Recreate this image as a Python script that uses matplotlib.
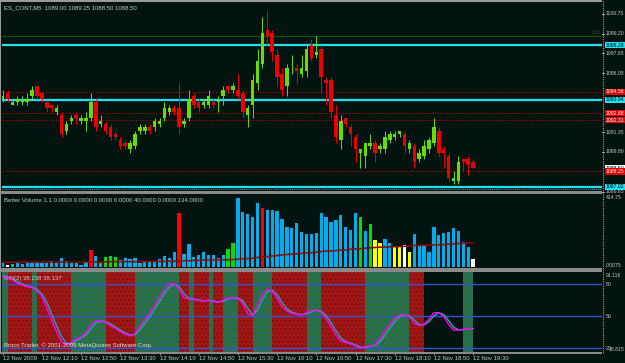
import matplotlib
matplotlib.use('Agg')
import matplotlib.pyplot as plt
import matplotlib.transforms as mtransforms
from matplotlib.patches import Rectangle

# ---------------- DATA ----------------
opens = [1094.0,1094.5,1093.5,1093.75,1093.75,1093.75,1094.25,1095.0,1094.5,1093.75,
         1093.5,1093.0,1092.75,1091.5,1092.25,1092.75,1092.25,1092.25,1092.5,1093.75,
         1092.0,1092.0,1091.75,1091.25,1090.75,1090.5,1090.0,1090.25,1091.5,1091.5,
         1091.75,1091.75,1092.0,1092.5,1093.0,1093.25,1093.25,1092.0,1092.5,1094.25,
         1093.75,1093.5,1093.5,1093.75,1093.75,1094.25,1095.0,1094.75,1094.75,1094.5,
         1092.75,1093.5,1095.25,1096.75,1099.5,1099.25,1097.5,1096.0,1095.0,1096.75,
         1096.5,1096.0,1096.25,1098.25,1097.5,1098.0,1095.5,1095.5,1092.75,1090.75,
         1092.5,1091.75,1091.0,1089.75,1089.5,1090.25,1090.5,1090.0,1090.0,1090.75,
         1091.0,1091.25,1091.25,1090.0,1090.25,1089.25,1089.5,1090.0,1090.5,1091.5,
         1090.0,1089.5,1087.5,1087.5,1089.25,1089.25,1089.0]
highs = [1094.75,1094.75,1094.0,1094.25,1094.25,1094.5,1095.0,1095.0,1094.5,1093.75,
         1093.5,1093.5,1093.0,1092.25,1092.75,1093.0,1092.75,1093.0,1094.5,1094.0,
         1092.75,1092.25,1092.0,1091.5,1091.0,1090.75,1090.75,1091.5,1092.0,1092.0,
         1092.0,1092.5,1092.5,1093.75,1093.5,1093.5,1095.25,1092.5,1094.75,1094.5,
         1094.0,1094.0,1094.75,1094.0,1094.25,1095.0,1095.0,1095.25,1096.0,1094.75,
         1093.5,1096.0,1098.0,1100.5,1101.0,1099.5,1098.0,1096.5,1096.75,1097.5,
         1096.75,1097.5,1098.25,1098.75,1099.0,1098.25,1095.75,1095.75,1093.5,1092.75,
         1092.5,1092.0,1091.25,1090.0,1090.5,1091.25,1090.75,1090.5,1091.5,1091.5,
         1091.5,1091.5,1091.5,1090.75,1090.5,1090.0,1090.75,1091.0,1092.5,1091.75,
         1090.25,1089.75,1088.25,1089.5,1089.25,1089.5,1089.25]
lows = [1093.75,1093.75,1093.5,1093.5,1093.5,1093.5,1094.0,1094.0,1093.75,1093.0,
        1093.0,1092.75,1091.0,1091.25,1092.0,1092.0,1092.0,1091.5,1092.25,1091.5,
        1091.75,1091.25,1090.75,1090.75,1090.0,1090.0,1089.75,1090.0,1091.25,1091.25,
        1091.25,1091.5,1091.75,1092.25,1092.75,1092.75,1091.25,1091.75,1092.25,1093.25,
        1093.0,1093.25,1093.25,1093.25,1093.0,1093.5,1094.5,1094.5,1094.0,1092.5,
        1091.75,1092.5,1094.75,1096.5,1098.25,1097.0,1095.0,1094.25,1094.25,1096.0,
        1095.25,1095.75,1095.75,1097.0,1097.25,1094.5,1093.5,1092.5,1090.5,1090.0,
        1091.75,1090.25,1089.0,1088.5,1088.5,1090.0,1089.0,1089.75,1089.75,1090.5,
        1090.75,1091.0,1089.75,1089.75,1088.5,1089.0,1089.25,1089.75,1090.25,1089.5,
        1088.5,1087.5,1087.25,1087.25,1088.25,1088.0,1088.5]
closes = [1094.25,1094.0,1093.75,1094.0,1094.0,1094.0,1094.75,1094.25,1094.0,1093.25,
          1093.25,1093.25,1091.25,1092.0,1092.5,1092.5,1092.5,1092.5,1093.75,1091.75,
          1092.25,1091.5,1091.0,1091.0,1090.25,1090.25,1090.5,1091.25,1091.75,1091.75,
          1091.5,1092.25,1092.25,1093.25,1093.25,1093.0,1091.75,1092.25,1094.0,1093.5,
          1093.25,1093.75,1094.25,1093.5,1094.0,1094.75,1094.75,1095.0,1094.25,1093.0,
          1093.25,1095.5,1097.0,1099.25,1099.0,1097.75,1095.75,1094.75,1096.5,1096.75,
          1096.25,1096.5,1098.0,1097.25,1097.75,1095.75,1095.25,1093.0,1091.0,1092.25,
          1092.0,1091.25,1090.0,1090.0,1090.5,1090.5,1089.75,1090.25,1091.0,1091.25,
          1091.25,1091.5,1090.25,1090.5,1089.0,1089.75,1090.25,1090.75,1091.75,1089.75,
          1089.75,1087.75,1087.75,1089.0,1089.0,1088.75,1088.5]

volume = [20,12,16,20,14,20,20,30,20,20,
          36,20,50,36,24,20,12,30,102,66,
          24,60,66,60,40,54,44,52,24,34,
          30,30,46,66,54,90,320,74,138,56,
          70,86,70,70,54,72,106,144,412,330,
          314,300,380,350,342,342,332,286,240,232,
          260,210,196,196,204,320,300,266,280,312,
          238,222,320,296,216,254,160,140,166,140,
          120,120,132,86,196,124,124,90,236,192,
          202,210,230,216,146,120,46]
vol_type = {1: 'white', 18: 'red', 21: 'green', 22: 'green', 23: 'green', 36: 'red',
            46: 'green', 47: 'green', 53: 'red', 73: 'green', 75: 'green',
            76: 'yellow', 77: 'yellow', 80: 'yellow', 81: 'yellow', 82: 'white',
            83: 'yellow', 96: 'white'}
vol_ma = [26,26,26,26,26,26,26,26,26,26,
          26,26,27,27,27,27,27,27,28,28,
          28,28,29,29,29,29,29,29,30,30,
          30,31,31,31,32,32,33,34,35,36,
          37,38,38,39,40,40,41,42,44,46,
          48,50,54,57,60,63,66,69,72,74,
          76,79,81,83,86,90,92,94,96,98,
          100,104,106,107,110,112,114,116,117,118,
          119,120,121,123,126,127,128,129,130,131,
          132,134,136,138,140,141,142]

rsi = [86.8,85.9,83.8,80.6,79.0,77.5,76.6,73.4,68.1,57.2,
       46.3,35.3,25.9,22.8,25.3,28.4,30.6,33.8,41.6,45.3,
       45.3,44.1,40.9,38.4,35.3,32.8,31.3,33.8,40.0,46.3,
       52.5,60.3,67.2,74.4,79.7,80.6,74.4,67.2,65.9,65.6,
       64.4,64.1,65.0,63.4,62.8,65.0,66.6,67.2,66.6,61.9,
       52.5,50.3,60.3,70.3,75.0,73.4,66.6,58.8,54.7,52.5,
       51.6,50.9,53.1,55.0,55.6,53.4,47.8,40.0,32.2,26.6,
       25.3,23.8,21.9,19.7,21.3,21.9,23.4,28.4,35.3,41.6,
       47.8,50.9,50.9,49.4,43.1,40.9,42.2,47.2,53.1,53.1,
       49.4,42.2,36.9,36.9,37.5,38.4,38.238]
rsi_signal = [87.5,86.5,84.8,82.2,79.8,78.2,77.0,75.0,70.8,62.7,
              51.8,40.8,30.6,24.4,24.0,26.8,29.5,32.2,37.7,43.5,
              45.3,44.7,42.5,39.7,36.9,34.1,32.1,32.5,36.9,43.1,
              49.4,56.4,63.7,70.8,77.0,80.1,77.5,70.8,66.6,65.8,
              65.0,64.3,64.5,64.2,63.1,63.9,65.8,66.9,66.9,64.3,
              57.2,51.4,55.3,65.3,72.7,74.2,70.0,62.7,56.8,53.6,
              52.1,51.3,52.0,54.0,55.3,54.5,50.6,43.9,36.1,29.4,
              26.0,24.6,22.9,20.8,20.5,21.6,22.7,25.9,31.8,38.4,
              44.7,49.3,50.9,50.2,46.3,42.0,41.6,44.7,50.1,53.1,
              51.3,45.8,39.6,36.9,37.2,38.0,38.137]

band_start = [-1, 1, 6, 7, 14, 21, 27, 36, 38, 39, 42, 43, 45, 48, 51, 55, 62, 65, 74, 83, 94]
band_end   = [1, 6, 7, 14, 21, 27, 36, 38, 39, 42, 43, 45, 48, 51, 55, 62, 65, 74, 83, 86, 96]
band_kind  = ['g','r','g','r','g','r','g','r','g','r','g','r','g','r','g','r','g','r','g','r','g']

cyan_levels = [1098.28, 1093.94, 1087.02]
cyan_labels = ['1098.28', '1093.94', '1087.02']
red_levels = [1094.56, 1092.88, 1092.31, 1088.25]
red_labels = ['1094.56', '1092.88', '1092.31', '1088.25']
fib_level = 1099.0
price_ticks = [1100.75, 1099.20, 1097.65, 1096.05, 1091.35, 1089.80, 1086.65]
last_price = 1088.50

time_tick_idx = [0, 8, 16, 24, 32, 40, 48, 56, 64, 72, 80, 88, 96]
time_labels = ['12 Nov 2009', '12 Nov 12:10', '12 Nov 12:50', '12 Nov 13:30', '12 Nov 14:10',
               '12 Nov 14:50', '12 Nov 15:30', '12 Nov 16:10', '12 Nov 16:50', '12 Nov 17:30',
               '12 Nov 18:10', '12 Nov 18:50', '12 Nov 19:30']
rsi_levels = [80, 50, 20]

# ---------------- STYLE ----------------
W, H = 625, 363
BG = '#03130f'
TXT = '#c8c8c8'
plt.rcParams['font.family'] = ['Liberation Sans', 'DejaVu Sans']
plt.rcParams['hatch.linewidth'] = 1.0
FS = 4.3     # panel texts
FR = 3.7     # right-hand scale labels

fig = plt.figure(figsize=(6.25, 3.63), dpi=100)
fig.patch.set_facecolor(BG)

def add_ax(x0, y0, x1, y1):
    ax = fig.add_axes([x0 / W, 1 - y1 / H, (x1 - x0) / W, (y1 - y0) / H])
    ax.set_facecolor(BG)
    for s in ax.spines.values():
        s.set_visible(False)
    ax.set_xticks([]); ax.set_yticks([])
    return ax

XMIN = -0.143
XMAX = XMIN + 600 / 4.9
ax1 = add_ax(2, 2, 602, 191)
ax2 = add_ax(2, 194, 602, 268)
ax3 = add_ax(2, 272, 602, 352)
for a in (ax1, ax2, ax3):
    a.set_xlim(XMIN, XMAX)
ax1.set_ylim(1086.70, 1101.70)
ax2.set_ylim(-9.0, 435.7)
ax3.set_ylim(16.25, 91.25)

n = len(opens)
xs = list(range(n))
BULL = '#66dd00'
BEAR = '#ee0000'
RX = 1.0058   # x (axes fraction) where right labels start

# --- main price panel ---
ax1.axhline(fib_level, color='#0c5a10', lw=0.8, zorder=1)
for lv in red_levels:
    ax1.axhline(lv, color='#a00000', lw=0.8, ls=(0, (1.5, 1.5)), zorder=1)
for lv in cyan_levels:
    ax1.axhline(lv, color='#20e0f0', lw=1.6, zorder=3)
ax1.axhline(cyan_levels[2] - 0.17, color='#20e0f0', lw=0.6, ls=(0, (1, 1.5)), zorder=3)

cols = [BULL if c >= o else BEAR for o, c in zip(opens, closes)]
ax1.vlines(xs, lows, highs, colors=cols, lw=0.7, zorder=4)
bottoms = [min(o, c) for o, c in zip(opens, closes)]
heights = [max(abs(c - o), 0.06) for o, c in zip(opens, closes)]
ax1.bar(xs, heights, bottom=bottoms, width=0.72, color=cols, lw=0, zorder=5)

tr1 = mtransforms.blended_transform_factory(ax1.transAxes, ax1.transData)
for t in price_ticks:
    ax1.text(RX, t, '%.2f' % t, transform=tr1, color=TXT, fontsize=FR,
             va='center', ha='left', clip_on=False)
    ax1.plot([1.0005, 1.0025], [t, t], transform=tr1, color=TXT, lw=0.6, clip_on=False)
box = dict(boxstyle='square,pad=0.12', lw=0)
for lv, lb in zip(red_levels, red_labels):
    ax1.text(RX, lv, lb, transform=tr1, color='white', fontsize=FR, va='center',
             ha='left', clip_on=False, bbox=dict(box, facecolor='#e00000'), zorder=3)
ax1.text(RX, last_price, '%.2f' % last_price, transform=tr1, color='black', fontsize=FR,
         va='center', ha='left', clip_on=False, bbox=dict(box, facecolor='white'), zorder=2)
for lv, lb in zip(cyan_levels, cyan_labels):
    ax1.text(RX, lv, lb, transform=tr1, color='black', fontsize=FR, va='center',
             ha='left', clip_on=False, bbox=dict(box, facecolor='#20e0f0'), zorder=3)
ax1.text(0.985, fib_level + 0.12, '0.0', transform=tr1, color='#0c6a10', fontsize=FS,
         va='bottom', ha='left')
ax1.text(0.004, 0.985, 'ES_CONT,M5  %.2f %.2f %.2f %.2f' % (opens[-1], highs[-1], lows[-1], closes[-1]),
         transform=ax1.transAxes, color=TXT, fontsize=FS, va='top', ha='left')

# --- volume panel ---
vcmap = {'white': '#ffffff', 'red': '#ff0000', 'green': '#00e000', 'yellow': '#ffff00'}
vcols = [vcmap.get(vol_type.get(i, ''), '#00aeef') for i in xs]
ax2.bar(xs, volume, width=0.68, color=vcols, lw=0, zorder=2)
ax2.plot(xs, vol_ma, color='#8b0a0a', lw=1.1, zorder=3)
tr2 = mtransforms.blended_transform_factory(ax2.transAxes, ax2.transData)
ax2.text(RX, 414.75, '414.75', transform=tr2, color=TXT, fontsize=FR, va='center',
         ha='left', clip_on=False)
ax2.text(RX, 4, '0.0075', transform=tr2, color=TXT, fontsize=FR, va='center',
         ha='left', clip_on=False)
ax2.text(0.004, 0.95, 'Better Volume 1.1 0.0000 0.0000 0.0000 0.0000 40.0000 0.0000 134.0000',
         transform=ax2.transAxes, color=TXT, fontsize=FS, va='top', ha='left')

# --- RSI panel ---
for a, b, k in zip(band_start, band_end, band_kind):
    if k == 'g':
        ax3.axvspan(a, b, facecolor='#2a7420', edgecolor='#2a62b8', hatch='.....', lw=0, zorder=1)
    else:
        ax3.axvspan(a, b, facecolor='#a31616', edgecolor='#7c1010', hatch='....', lw=0, zorder=1)
for lv in rsi_levels:
    ax3.axhline(lv, color='#3355cc', lw=1.0, zorder=2)
ax3.plot(xs, rsi_signal, color='#20a8a8', lw=1.0, zorder=3)
ax3.plot(xs, rsi, color='#ff00ff', lw=1.0, zorder=4)
tr3 = mtransforms.blended_transform_factory(ax3.transAxes, ax3.transData)
ax3.text(RX, 91.116 - 3.0, '91.116', transform=tr3, color=TXT, fontsize=FR, va='center',
         ha='left', clip_on=False)
ax3.text(RX + 0.006, 18.815, '18.815', transform=tr3, color=TXT, fontsize=FR, va='center',
         ha='left', clip_on=False)
for lv in rsi_levels:
    ax3.text(RX, lv, str(lv), transform=tr3, color=TXT, fontsize=FR, va='center',
             ha='left', clip_on=False)
ax3.text(0.004, 0.95, 'RSI(2) %.3f %.3f' % (rsi[-1], rsi_signal[-1]), transform=ax3.transAxes,
         color=TXT, fontsize=FS, va='top', ha='left')
ax3.text(0.004, 0.045, 'Broco Trader, \u00a9 2001-2009 MetaQuotes Software Corp.',
         transform=ax3.transAxes, color='#e0e0e0', fontsize=FS, va='bottom', ha='left', zorder=6)

ax3.set_xticks(time_tick_idx)
ax3.set_xticklabels(time_labels, fontsize=FS, color=TXT, ha='left')
ax3.tick_params(axis='x', length=2, width=0.6, color='#a0a0a0', pad=1.2)

# --- frame / separators ---
def frect(x0, y0, x1, y1, c, z=10):
    fig.patches.append(Rectangle((x0 / W, 1 - y1 / H), (x1 - x0) / W, (y1 - y0) / H,
                                 transform=fig.transFigure, facecolor=c, lw=0, zorder=z))
frect(0, 0, 602, 1.5, '#9a9a9a')
frect(0, 0, 1.2, 353, '#9a9a9a')
frect(0, 191, 602, 194, '#8a8a8a')
frect(0, 268, 602, 271.5, '#8a8a8a')
frect(0, 352, 602, 353.5, '#8a8a8a')
fig.lines.append(plt.Line2D([602.5 / W, 602.5 / W], [1 - 353 / H, 1], transform=fig.transFigure,
                            color='#a0a0a0', lw=0.8, ls=(0, (1, 1))))

fig.savefig('out.png', dpi=100, facecolor=BG)
